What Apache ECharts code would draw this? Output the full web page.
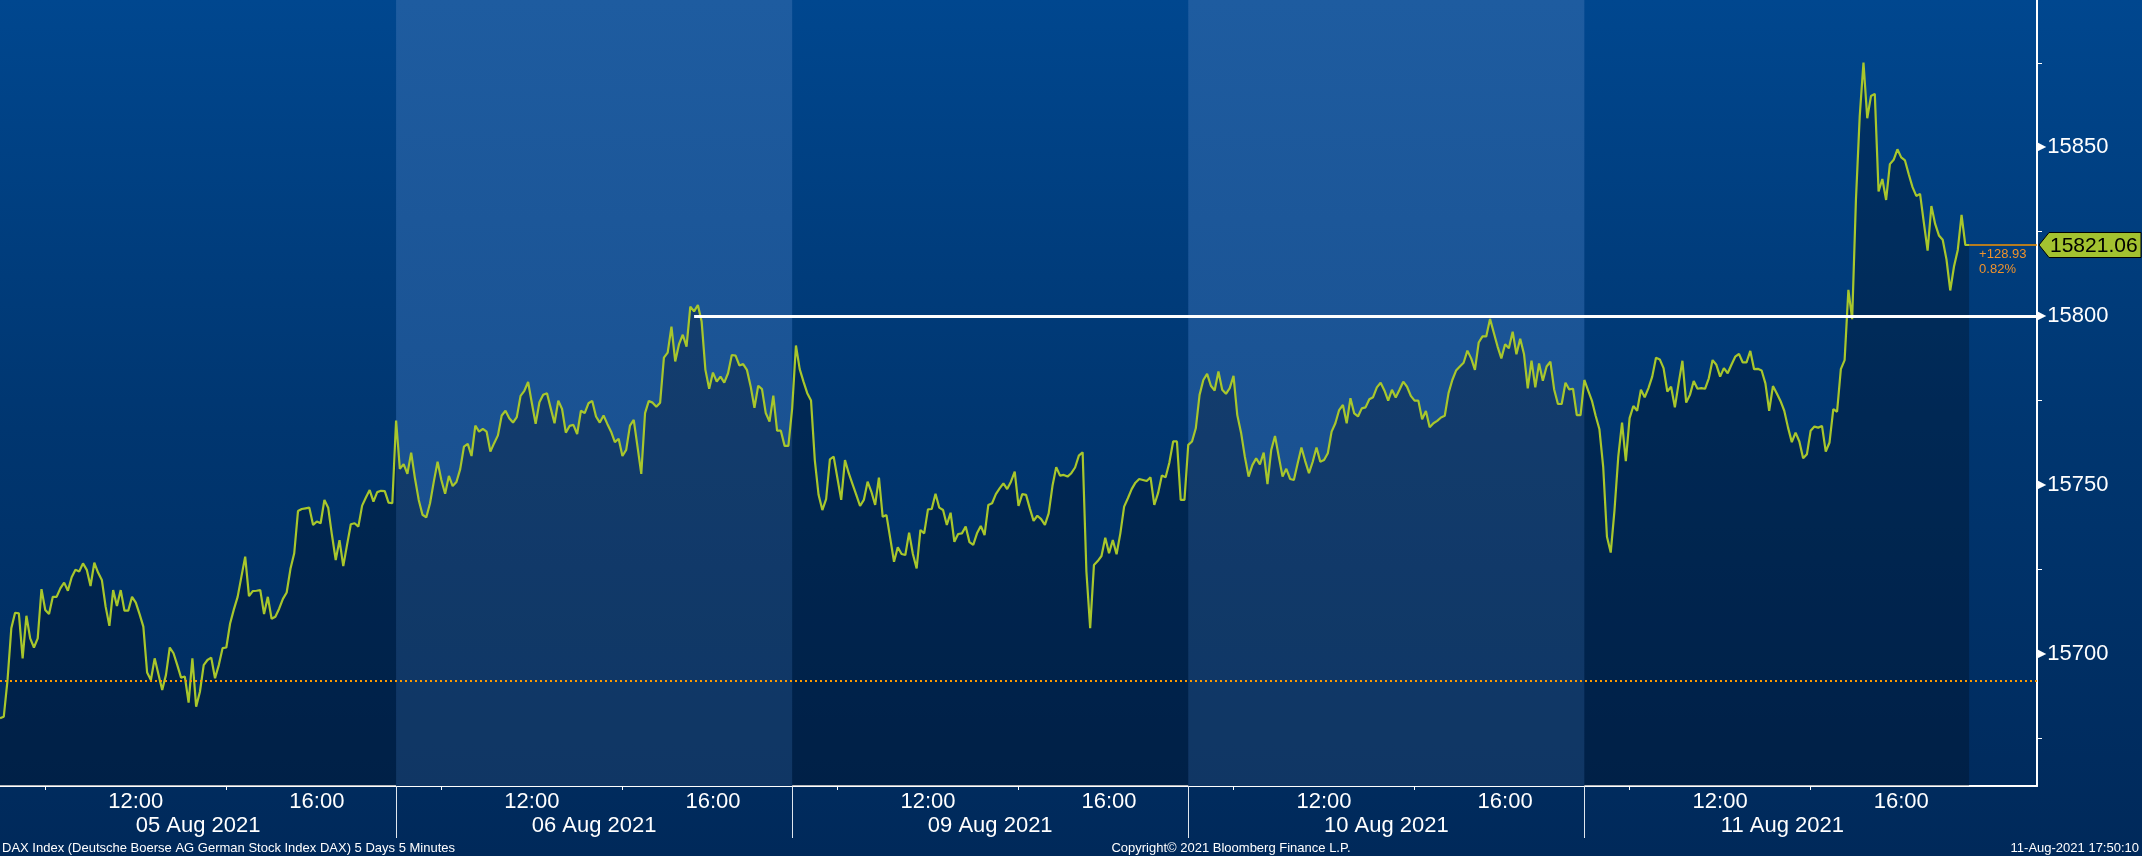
<!DOCTYPE html>
<html><head><meta charset="utf-8">
<script src="https://cdn.jsdelivr.net/npm/echarts@6/dist/echarts.min.js"></script>
<style>
html,body{margin:0;padding:0;background:#002a5a;}
#c{width:2142px;height:856px;background:linear-gradient(to bottom,#00478f 0%,#003670 50%,#00295a 100%);}
</style>
</head><body><div id="c"></div>
<script>
// ---- data (DAX 5 days, 5-minute bars) ----
const dateLabels = ['05 Aug 2021','06 Aug 2021','09 Aug 2021','10 Aug 2021','11 Aug 2021'];
const hourLabels = ['12:00','16:00'];
const labelHours = [12,16];
const minorHours = [10,14];
const yLabelValues = [15700,15750,15800,15850];
const yMinorValues = [15675,15725,15775,15825,15875];
const prevClose = 15692.13;
const levelLine = 15800;
const netChange = '+128.93';
const pctChange = '0.82%';
const footerLeft = 'DAX Index (Deutsche Boerse AG German Stock Index DAX) 5 Days 5 Minutes';
const footerMid = 'Copyright\u00A9 2021 Bloomberg Finance L.P.';
const footerRight = '11-Aug-2021 17:50:10';

const aug05 = [15681.0,15681.4,15692.3,15707.6,15712.2,15712.0,15698.7,15711.3,15704.6,15701.9,
15704.6,15719.2,15713.0,15711.8,15716.9,15716.9,15719.4,15721.1,15718.7,15722.7,
15724.9,15724.4,15726.8,15724.9,15720.1,15727.0,15724.1,15721.9,15714.0,15708.3,
15718.9,15714.2,15718.9,15712.8,15712.8,15716.9,15715.2,15711.8,15708.1,15694.5,
15692.3,15698.7,15694.0,15689.3,15693.8,15701.9,15700.2,15696.7,15693.0,15693.3,
15685.6,15698.7,15684.4,15688.8,15696.7,15698.2,15698.9,15692.8,15696.7,15701.7,
15701.9,15709.0,15713.2,15716.9,15722.9,15728.8,15717.1,15718.6,15718.7,15718.9,
15711.8,15716.9,15710.4,15711.0,15713.4,15716.3,15718.2,15725.2,15729.8,15742.3,
15742.9,15743.1,15743.3,15738.2,15739.2,15738.7,15745.6,15743.3,15735.2,15727.8,
15733.7,15726.0,15732.3,15738.4,15738.7,15737.7,15743.9,15746.3,15748.5,15745.1,
15747.9,15748.3,15748.2,15744.8,15744.6];
const aug06 = [15769.1,15754.8,15756.2,15753.3,15759.6,15752.0,15745.6,15741.2,15740.4,15744.6,
15751.0,15756.9,15751.5,15747.4,15752.7,15749.7,15750.9,15754.7,15761.4,15762.2,
15758.6,15767.6,15765.8,15766.6,15765.8,15759.9,15762.4,15764.7,15770.6,15772.0,
15769.8,15768.5,15770.1,15776.4,15777.9,15780.5,15774.2,15768.1,15774.5,15776.7,
15777.2,15772.7,15768.3,15775.0,15772.5,15765.5,15767.5,15767.8,15765.1,15772.0,
15771.3,15774.2,15774.9,15770.3,15768.5,15770.6,15768.1,15765.8,15762.7,15763.7,
15758.6,15760.4,15767.6,15769.3,15761.4,15753.3,15771.3,15774.9,15774.4,15773.2,
15774.4,15787.7,15789.2,15796.9,15786.6,15791.7,15794.5,15791.0,15802.8,15801.4,
15803.3,15798.4,15784.1,15778.5,15783.3,15780.6,15782.1,15780.3,15783.1,15788.5,
15788.3,15785.4,15785.8,15784.1,15779.2,15772.9,15779.4,15778.4,15771.3,15768.8,
15776.5,15766.1,15766.1,15761.6,15761.6];
const aug09 = [15772.7,15791.3,15784.3,15780.6,15777.2,15775.0,15757.4,15747.1,15742.6,15745.8,
15757.6,15758.4,15752.0,15745.6,15757.4,15753.5,15750.3,15747.1,15743.8,15745.6,
15751.0,15748.0,15744.1,15752.2,15740.6,15741.1,15734.2,15727.3,15731.6,15729.6,
15729.3,15735.9,15729.6,15725.3,15736.7,15735.7,15742.8,15742.9,15747.4,15743.3,
15742.6,15738.2,15741.8,15733.2,15735.5,15735.7,15737.7,15733.1,15732.3,15735.7,
15737.9,15735.2,15744.1,15744.6,15747.3,15749.0,15750.5,15748.8,15751.0,15754.0,
15743.8,15747.3,15747.1,15743.1,15739.4,15740.9,15739.9,15738.2,15741.6,15749.7,
15755.3,15752.8,15753.0,15752.5,15753.5,15755.2,15758.7,15759.7,15724.4,15707.6,
15726.3,15727.5,15729.0,15734.4,15729.8,15733.7,15729.5,15735.7,15743.6,15746.1,
15748.8,15750.7,15751.8,15751.5,15751.2,15752.3,15744.1,15747.6,15752.8,15752.3,
15756.7,15762.9,15762.9,15745.6,15745.6];
const aug10 = [15761.9,15762.9,15766.8,15776.7,15781.1,15782.9,15779.4,15778.0,15783.6,15778.2,
15777.0,15778.7,15782.3,15770.7,15765.5,15758.4,15752.5,15755.9,15757.9,15756.1,
15759.6,15750.3,15760.4,15764.5,15758.4,15752.5,15754.8,15751.8,15751.5,15756.4,
15761.1,15757.1,15753.5,15756.9,15761.1,15756.9,15757.4,15759.4,15765.8,15768.3,
15772.2,15773.7,15768.3,15775.7,15771.2,15770.3,15772.7,15773.0,15775.4,15776.0,
15778.9,15780.3,15778.0,15775.0,15778.2,15775.9,15778.2,15780.6,15779.1,15776.4,
15775.0,15775.0,15769.5,15771.9,15767.1,15768.3,15769.0,15770.0,15770.5,15777.2,
15781.1,15783.9,15785.1,15786.2,15789.8,15787.5,15784.1,15792.2,15794.0,15794.0,
15799.2,15795.1,15791.0,15787.5,15791.7,15790.5,15795.4,15788.7,15793.3,15788.8,
15778.6,15786.8,15778.9,15786.0,15780.9,15785.1,15786.5,15778.3,15774.0,15774.0,
15780.3,15778.3,15778.5,15770.7,15770.7];
const aug11 = [15781.1,15778.0,15775.0,15770.5,15766.5,15755.4,15734.7,15730.0,15742.6,15758.4,
15768.5,15757.1,15769.8,15773.4,15772.0,15778.2,15776.0,15778.7,15782.1,15787.7,
15787.2,15784.6,15777.7,15779.1,15773.0,15780.1,15786.8,15774.4,15776.7,15780.8,
15778.5,15778.7,15778.5,15781.6,15787.0,15785.6,15782.1,15784.6,15783.1,15785.6,
15788.0,15788.8,15786.3,15786.3,15789.7,15784.3,15784.4,15783.9,15780.1,15772.0,
15779.3,15777.2,15774.9,15772.0,15767.0,15762.7,15765.5,15762.9,15757.9,15759.1,
15766.1,15767.3,15767.0,15767.5,15759.9,15762.6,15772.5,15771.7,15784.3,15787.0,
15807.8,15799.1,15834.4,15859.1,15875.1,15858.6,15865.2,15865.8,15836.9,15840.6,
15834.4,15845.0,15846.3,15849.4,15847.0,15846.1,15842.0,15838.2,15835.6,15836.2,
15827.7,15819.4,15832.6,15827.3,15823.9,15822.6,15816.8,15807.6,15814.7,15819.6,
15830.0,15821.06,15821.06];
const days = [aug05, aug06, aug09, aug10, aug11];

// ---- build ----
const SLOTS = 105;            // 5-minute slots per trading day (from 09:00)
const X_MAX = 540;
const Y_MIN = 15660.9, Y_MAX = 15893.6;
const slotOf = (d, h) => d * SLOTS + (h - 9) * 12;

const lineData = [];
days.forEach((arr, d) => arr.forEach((v, i) => lineData.push([d * SLOTS + i, v])));
const last = lineData[lineData.length - 1];
const peakStart = 1 * SLOTS + 79;

const hourLabelSlots = [], minorSlots = [];
days.forEach((_, d) => {
  labelHours.forEach(h => hourLabelSlots.push(slotOf(d, h)));
  minorHours.forEach(h => minorSlots.push(slotOf(d, h)));
});
const dayBounds = days.slice(1).map((_, i) => (i + 1) * SLOTS);
const dayCenters = days.map((_, d) => d * SLOTS + SLOTS / 2);

const FONT = '"Liberation Sans", Arial, sans-serif';
const chart = echarts.init(document.getElementById('c'), null, {renderer: 'canvas'});

const lightBand = {type:'linear', x:0, y:0, x2:0, y2:1,
  colorStops:[{offset:0,color:'#1e5ca0'},{offset:1,color:'#174a87'}]};

chart.setOption({
  animation: false,
  backgroundColor: 'transparent',
  textStyle: {fontFamily: FONT},
  grid: {left: 0, right: 105, top: 0, bottom: 70, containLabel: false, outerBoundsMode: 'none'},
  xAxis: [{
    type: 'value', min: 0, max: X_MAX, position: 'bottom',
    splitLine: {show: false},
    axisLine: {show: true, onZero: false, lineStyle: {color: '#ffffff', width: 2}},
    axisTick: {show: true, customValues: minorSlots, length: 4, lineStyle: {color: '#ffffff', width: 1}},
    axisLabel: {show: true, customValues: hourLabelSlots, margin: 5, color: '#ffffff', fontSize: 22, fontFamily: FONT,
      hideOverlap: false,
      formatter: v => hourLabels[labelHours.indexOf(Math.round(9 + (v % SLOTS) / 12))]}
  }, {
    type: 'value', min: 0, max: X_MAX, position: 'bottom',
    splitLine: {show: false},
    axisLine: {show: false, onZero: false},
    axisTick: {show: true, customValues: dayBounds, length: 52, lineStyle: {color: '#dfe6ee', width: 1}},
    axisLabel: {show: true, customValues: dayCenters, margin: 29, color: '#ffffff', fontSize: 22, fontFamily: FONT,
      hideOverlap: false,
      formatter: v => dateLabels[Math.floor(v / SLOTS)]}
  }],
  yAxis: {
    type: 'value', position: 'right', min: Y_MIN, max: Y_MAX,
    splitLine: {show: false},
    axisLine: {show: true, onZero: false, lineStyle: {color: '#ffffff', width: 2}},
    axisTick: {show: true, customValues: yMinorValues, length: 5, lineStyle: {color: '#ffffff', width: 1}},
    axisLabel: {show: true, customValues: yLabelValues, margin: 0, hideOverlap: false,
      formatter: v => '{t|\u25B6}{v|' + v + '}',
      rich: {
        t: {fontFamily: '"DejaVu Sans"', fontSize: 12, color: '#ffffff', padding: [0, 1, 0, 0]},
        v: {fontFamily: FONT, fontSize: 22, color: '#ffffff'}
      }}
  },
  series: [{
    type: 'line', z: 1, silent: true, showSymbol: false,
    data: [[0, Y_MIN]], lineStyle: {opacity: 0},
    markArea: {silent: true, itemStyle: {color: lightBand},
      data: [[{xAxis: SLOTS}, {xAxis: 2 * SLOTS}], [{xAxis: 3 * SLOTS}, {xAxis: 4 * SLOTS}]]}
  }, {
    type: 'line', z: 3, showSymbol: false, silent: true,
    data: lineData,
    lineStyle: {color: '#a8c72c', width: 2.2},
    areaStyle: {color: 'rgba(0,6,16,0.42)', origin: 'start'},
    markLine: {
      silent: true, symbol: 'none', label: {show: false},
      data: [
        {yAxis: prevClose, lineStyle: {color: '#ff9a00', type: [2, 3], width: 2}},
        [{coord: [peakStart, levelLine], lineStyle: {color: '#ffffff', width: 3, type: 'solid'}},
         {coord: [X_MAX, levelLine], lineStyle: {color: '#ffffff', width: 3, type: 'solid'}}],
        [{coord: [last[0], last[1]], lineStyle: {color: '#f39200', width: 1.5, type: 'solid'}},
         {coord: [X_MAX, last[1]], lineStyle: {color: '#f39200', width: 1.5, type: 'solid'}}]
      ]
    }
  }]
});

const pLast = chart.convertToPixel({gridIndex: 0}, last);
const pAxis = chart.convertToPixel({gridIndex: 0}, [X_MAX, last[1]]);
const X = pAxis[0], Y = pAxis[1];
chart.setOption({
  graphic: [
    {type: 'polygon', z: 100, shape: {points: [[X + 2, Y], [X + 12, Y - 12.5], [2141, Y - 12.5], [2141, Y + 12.5], [X + 12, Y + 12.5]]},
      style: {fill: '#a3c230', stroke: '#000000', lineWidth: 1}},
    {type: 'text', z: 101, x: X + 13, y: Y + 1, style: {text: last[1].toFixed(2), fill: '#000000', font: '21px ' + FONT, textVerticalAlign: 'middle', verticalAlign: 'middle'}},
    {type: 'text', z: 101, x: pLast[0] + 10, y: Y + 9, style: {text: netChange, fill: '#f0922a', font: '13px ' + FONT, verticalAlign: 'middle'}},
    {type: 'text', z: 101, x: pLast[0] + 10, y: Y + 24, style: {text: pctChange, fill: '#f0922a', font: '13px ' + FONT, verticalAlign: 'middle'}},
    {type: 'text', z: 101, x: 2, y: 848, style: {text: footerLeft, fill: '#ffffff', font: '13px ' + FONT, verticalAlign: 'middle'}},
    {type: 'text', z: 101, x: 1231, y: 848, style: {text: footerMid, fill: '#ffffff', font: '13px ' + FONT, align: 'center', verticalAlign: 'middle'}},
    {type: 'text', z: 101, x: 2139, y: 848, style: {text: footerRight, fill: '#ffffff', font: '13px ' + FONT, align: 'right', verticalAlign: 'middle'}}
  ]
});
</script>
</body></html>
